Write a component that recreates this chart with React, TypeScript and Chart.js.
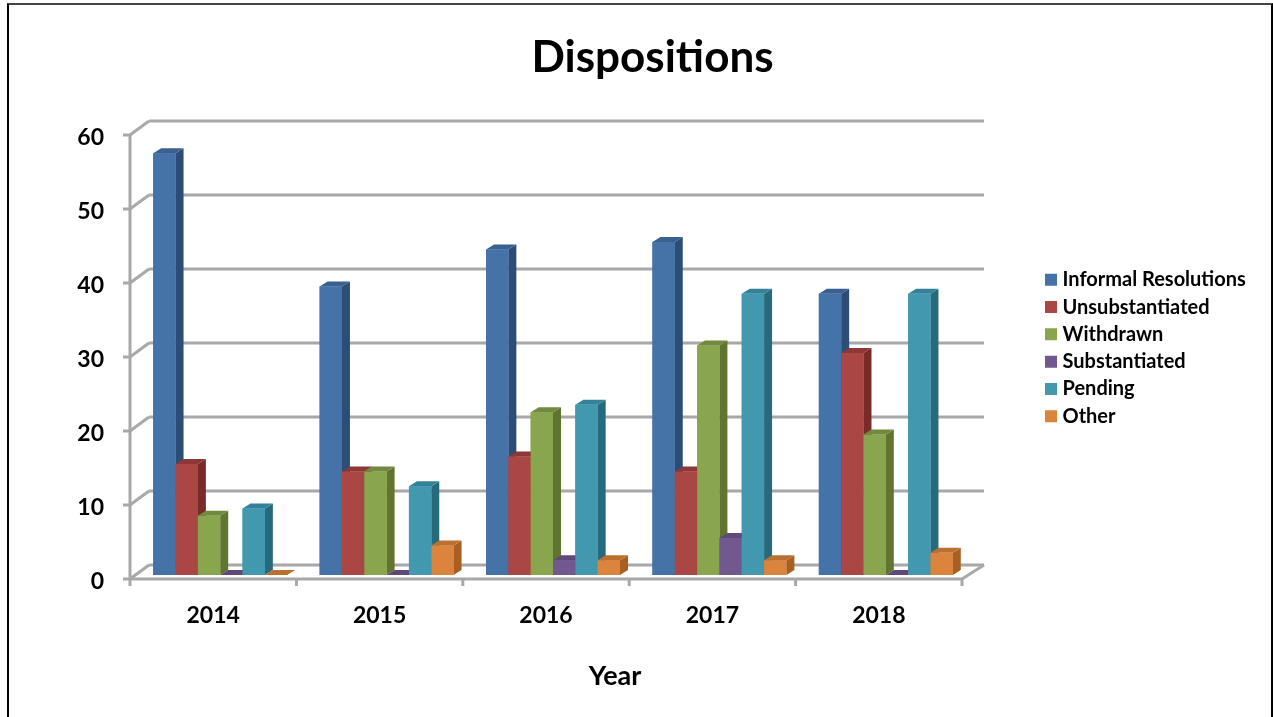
import React, { useEffect, useRef } from "react";
import { Chart, registerables, Plugin } from "chart.js";

Chart.register(...registerables);

const years = ["2014", "2015", "2016", "2017", "2018"];
const informalResolutions = [57, 39, 44, 45, 38];
const unsubstantiated = [15, 14, 16, 14, 30];
const withdrawn = [8, 14, 22, 31, 19];
const substantiated = [0, 0, 2, 5, 0];
const pending = [9, 12, 23, 38, 38];
const other = [0, 4, 2, 2, 3];

const faceColors = ["#4572A7", "#AA4643", "#89A54E", "#71588F", "#4198AF", "#DB843D"];
const sideColors = ["#2C4D75", "#772C2A", "#5F7530", "#4D3B62", "#276A7C", "#A85F22"];
const topColors = ["#3A6090", "#8C3836", "#728A40", "#5E4978", "#348299", "#BC7030"];

const FONT = "Lato, 'Open Sans', sans-serif";
const TEXT = "#000000";
const FRAME = "#A8A8A8";

// Projection of the box: bars stand on a plane, the wall sits behind it and the floor edge in front.
const BAR_DEPTH = { x: 8, y: 5 };
const WALL_OFFSET = { x: 12, y: -10 };
const FRONT_OFFSET = { x: -7, y: 4 };

const polygon = (ctx: CanvasRenderingContext2D, pts: number[][], fill: string) => {
  ctx.beginPath();
  pts.forEach(([x, y], i) => (i ? ctx.lineTo(x, y) : ctx.moveTo(x, y)));
  ctx.closePath();
  ctx.fillStyle = fill;
  ctx.fill();
};

const segment = (ctx: CanvasRenderingContext2D, x0: number, y0: number, x1: number, y1: number) => {
  ctx.beginPath();
  ctx.moveTo(x0, y0);
  ctx.lineTo(x1, y1);
  ctx.stroke();
};

const boxFrame: Plugin<"bar"> = {
  id: "boxFrame",
  beforeDatasetsDraw(chart) {
    const { ctx, scales } = chart;
    const xs = scales.x;
    const ys = scales.y;
    const wallL = xs.left + WALL_OFFSET.x;
    const wallR = xs.right + WALL_OFFSET.x + 3;
    const frontL = xs.left + FRONT_OFFSET.x;
    const frontR = xs.right + FRONT_OFFSET.x;
    ctx.save();
    ctx.strokeStyle = FRAME;
    ctx.lineWidth = 3;
    ys.ticks.forEach((t) => {
      const py = ys.getPixelForValue(t.value);
      segment(ctx, wallL, py + WALL_OFFSET.y, wallR, py + WALL_OFFSET.y);
      segment(ctx, wallL, py + WALL_OFFSET.y, frontL, py + FRONT_OFFSET.y);
      segment(ctx, frontL, py + FRONT_OFFSET.y, frontL - 7, py + FRONT_OFFSET.y);
    });
    const topY = ys.getPixelForValue(ys.max) + FRONT_OFFSET.y;
    const floorY = ys.getPixelForValue(0) + FRONT_OFFSET.y;
    segment(ctx, frontL, topY, frontL, floorY);
    segment(ctx, frontL, floorY, frontR, floorY);
    segment(ctx, frontR, floorY, wallR, ys.getPixelForValue(0) + WALL_OFFSET.y);
    const step = (xs.right - xs.left) / years.length;
    for (let i = 0; i <= years.length; i++) {
      const px = frontL + i * step;
      segment(ctx, px, floorY, px, floorY + 7);
    }
    ctx.restore();
  },
};

// Paints the datasets left to right so each bar's front hides its neighbour's side face.
const bars3d: Plugin<"bar"> = {
  id: "bars3d",
  afterDatasetsDraw(chart) {
    const { ctx } = chart;
    ctx.save();
    chart.data.datasets.forEach((_, di) => {
      const meta = chart.getDatasetMeta(di);
      meta.data.forEach((el: any) => {
        const half = el.width / 2;
        const l = el.x - half;
        const r = el.x + half;
        const { x: dx, y: dy } = BAR_DEPTH;
        polygon(ctx, [[r, el.y], [r + dx, el.y - dy], [r + dx, el.base - dy], [r, el.base]], sideColors[di]);
        polygon(ctx, [[l, el.y], [r, el.y], [r + dx, el.y - dy], [l + dx, el.y - dy]], topColors[di]);
        el.draw(ctx);
      });
    });
    ctx.restore();
  },
};

const yearCaption: Plugin<"bar"> = {
  id: "yearCaption",
  afterDraw(chart) {
    const { ctx } = chart;
    ctx.save();
    ctx.font = `bold 27px ${FONT}`;
    ctx.fillStyle = TEXT;
    ctx.textAlign = "center";
    ctx.textBaseline = "middle";
    ctx.fillText("Year", 615, 676);
    ctx.restore();
  },
};

export default function App() {
  const ref = useRef<HTMLCanvasElement | null>(null);

  useEffect(() => {
    if (!ref.current) return;
    const series: [string, number[]][] = [
      ["Informal Resolutions", informalResolutions],
      ["Unsubstantiated", unsubstantiated],
      ["Withdrawn", withdrawn],
      ["Substantiated", substantiated],
      ["Pending", pending],
      ["Other", other],
    ];
    const chart = new Chart(ref.current, {
      type: "bar",
      data: {
        labels: years,
        datasets: series.map(([label, data], i) => ({
          label,
          data,
          backgroundColor: faceColors[i],
          borderWidth: 0,
          categoryPercentage: 0.805,
          barPercentage: 1,
        })),
      },
      options: {
        responsive: false,
        animation: false,
        devicePixelRatio: 1,
        layout: { padding: { left: 49.2, right: 17.2, top: 0, bottom: 21 } },
        plugins: {
          tooltip: { enabled: false },
          title: {
            display: true,
            text: "Dispositions",
            color: TEXT,
            font: { family: FONT, size: 44, weight: "bold", lineHeight: 1.1 },
            padding: { top: 34, bottom: 48.6 },
          },
          legend: {
            position: "right",
            maxWidth: 260,
            labels: {
              usePointStyle: true,
              pointStyle: "rect",
              boxWidth: 3,
              boxHeight: 12,
              padding: 7.3,
              color: TEXT,
              font: { family: FONT, size: 20, weight: "bold" },
            },
          },
        },
        scales: {
          x: {
            grid: { display: false, drawTicks: false },
            border: { display: false },
            ticks: {
              color: TEXT,
              padding: 27,
              labelOffset: FRONT_OFFSET.x,
              maxRotation: 0,
              font: { family: FONT, size: 23, weight: "bold" },
            },
            afterFit: (s: any) => {
              s.height = 121;
            },
          },
          y: {
            min: 0,
            max: 60,
            grid: { display: false, drawTicks: false },
            border: { display: false },
            ticks: {
              stepSize: 10,
              color: TEXT,
              padding: 33,
              labelOffset: 7,
              font: { family: FONT, size: 23, weight: "bold" },
            },
            afterFit: (s: any) => {
              s.width = 87.8;
            },
          },
          // Empty axis that only keeps a gap between the plot and the legend.
          gap: {
            type: "linear",
            position: "right",
            grid: { display: false },
            border: { display: false },
            ticks: { display: false },
            afterFit: (s: any) => {
              s.width = 73.2;
            },
          },
        },
      },
      plugins: [boxFrame, bars3d, yearCaption],
    } as any);
    return () => chart.destroy();
  }, []);

  return (
    <div style={{ position: "absolute", left: 0, top: 0, width: 1273, height: 717, background: "#fff", overflow: "hidden" }}>
      <div
        style={{
          position: "absolute",
          left: 7,
          top: 3,
          right: 0,
          bottom: -4,
          boxSizing: "border-box",
          borderLeft: "2px solid #000",
          borderRight: "2px solid #000",
          borderTop: "2px solid #444",
        }}
      />
      <canvas ref={ref} width={1273} height={717} style={{ position: "absolute", left: 0, top: 0, display: "block" }} />
    </div>
  );
}
